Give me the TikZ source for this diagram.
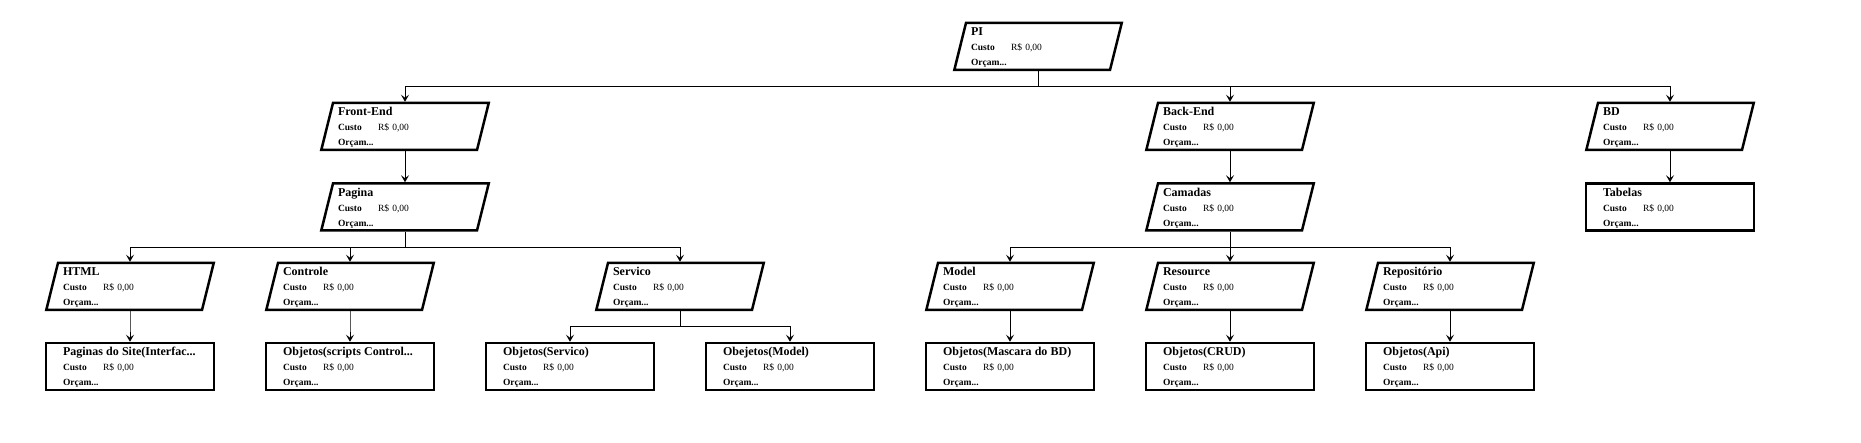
\documentclass[tikz,border=0pt]{standalone}
\usepackage{fontspec}
\setmainfont{Liberation Serif}
\usepackage{tikz}
\usetikzlibrary{positioning,shapes,arrows.meta}

\newcommand{\wbsitem}[1]{%
  \rule{0pt}{11pt}\mbox{\fontsize{12}{15}\selectfont\bfseries #1}\\
  \makebox[40pt][l]{\bfseries Custo}R\$ 0,00\\
  \textbf{Orçam...}\rule[-2pt]{0pt}{2pt}}

\begin{document}
\begin{tikzpicture}
            [x=1pt,y=-1pt,every node/.style={draw, line width=2.5pt, font=\fontsize{9.5}{15}\selectfont, text width=134pt, align=left, inner ysep=2pt},
            task/.style={trapezium, trapezium left angle=76, trapezium right angle=104, inner xsep=5pt},
            leaf/.style={rectangle, inner xsep=17pt}]
            \useasboundingbox (0,0) rectangle (1861,443);
            \node[task] (pi) at (1038,46.5) {\wbsitem{PI}};
            \node[task] (fe) at (405,126.5) {\wbsitem{Front-End}};
            \node[task] (be) at (1230,126.5) {\wbsitem{Back-End}};
            \node[task] (bd) at (1670,126.5) {\wbsitem{BD}};
            \node[task] (pag) at (405,207) {\wbsitem{Pagina}};
            \node[task] (cam) at (1230,207) {\wbsitem{Camadas}};
            \node[leaf] (tab) at (1670,207) {\wbsitem{Tabelas}};
            \node[task] (html) at (130,286.5) {\wbsitem{HTML}};
            \node[task] (ctrl) at (350,286.5) {\wbsitem{Controle}};
            \node[task] (serv) at (680,286.5) {\wbsitem{Servico}};
            \node[task] (model) at (1010,286.5) {\wbsitem{Model}};
            \node[task] (res) at (1230,286.5) {\wbsitem{Resource}};
            \node[task] (repo) at (1450,286.5) {\wbsitem{Repositório}};
            \node[leaf] (pgs) at (130,366.5) {\wbsitem{Paginas do Site(Interfac...}};
            \node[leaf] (objc) at (350,366.5) {\wbsitem{Objetos(scripts Control...}};
            \node[leaf] (objs) at (570,366.5) {\wbsitem{Objetos(Servico)}};
            \node[leaf] (objm) at (790,366.5) {\wbsitem{Obejetos(Model)}};
            \node[leaf] (objbd) at (1010,366.5) {\wbsitem{Objetos(Mascara do BD)}};
            \node[leaf] (crud) at (1230,366.5) {\wbsitem{Objetos(CRUD)}};
            \node[leaf] (api) at (1450,366.5) {\wbsitem{Objetos(Api)}};

            \foreach \from/\to in {pi/fe, pi/be, pi/bd, fe/pag, be/cam, bd/tab, pag/html, pag/ctrl, pag/serv, cam/model, cam/res, cam/repo, html/pgs, ctrl/objc, serv/objs, serv/objm, model/objbd, res/crud, repo/api}
            \draw[line width=0.9pt, -{Stealth[length=7pt,width=8pt,inset=3pt]}] (\from) -- ++(0,40) -| (\to);
          \end{tikzpicture}
\end{document}
